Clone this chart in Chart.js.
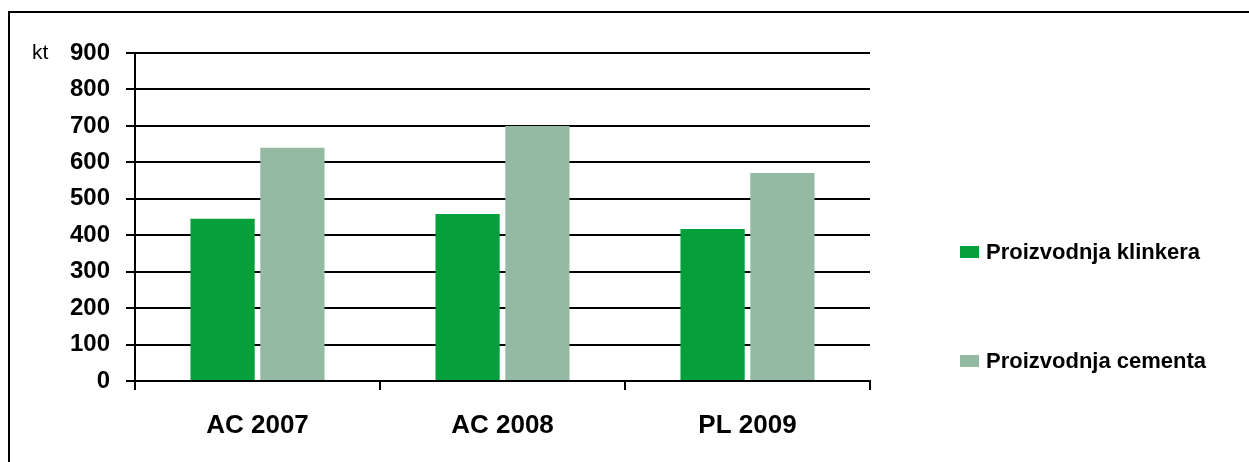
<!DOCTYPE html>
<html>
<head>
<meta charset="utf-8">
<script src="https://cdn.jsdelivr.net/npm/chart.js@4.4.0/dist/chart.umd.min.js"></script>
<style>
  html, body { margin: 0; padding: 0; background: #fff; }
  #wrap { position: relative; width: 1249px; height: 462px; }
  #frame { position: absolute; left: 8px; top: 11px; right: 0; bottom: -2px; border-top: 2px solid #000; border-left: 2px solid #000; }
</style>
</head>
<body>
<div id="wrap">
  <div id="frame"></div>
  <canvas id="cementChart" width="1249" height="462"></canvas>
</div>
<script>
const categories = ['AC 2007', 'AC 2008', 'PL 2009'];
const klinker = [445, 458, 417];
const cement = [640, 700, 571];
const seriesNames = ['Proizvodnja klinkera', 'Proizvodnja cementa'];
const seriesColors = ['#05a03b', '#94baa4'];
const yTicks = [0, 100, 200, 300, 400, 500, 600, 700, 800, 900];
const unitLabel = 'kt';

// legend + unit label drawn on the canvas
const sideLegend = {
  id: 'sideLegend',
  afterDraw(chart) {
    const ctx = chart.ctx;
    ctx.save();
    ctx.textBaseline = 'middle';
    ctx.textAlign = 'left';
    const rows = [252, 361];
    chart.data.datasets.forEach((ds, i) => {
      ctx.fillStyle = ds.backgroundColor;
      ctx.fillRect(960, rows[i] - 6, 19, 12);
      ctx.fillStyle = '#000';
      ctx.font = 'bold 22px "Liberation Sans", Arial, sans-serif';
      ctx.fillText(ds.label, 986, rows[i] + 1);
    });
    ctx.font = '21px "Liberation Sans", Arial, sans-serif';
    ctx.fillText(unitLabel, 32, 53);
    ctx.restore();
  }
};

const ctx = document.getElementById('cementChart').getContext('2d');
new Chart(ctx, {
  type: 'bar',
  data: {
    labels: categories,
    datasets: [
      { label: seriesNames[0], data: klinker, backgroundColor: seriesColors[0] },
      { label: seriesNames[1], data: cement, backgroundColor: seriesColors[1] }
    ]
  },
  options: {
    responsive: false,
    animation: false,
    layout: { padding: { left: 0, right: 379, top: 53, bottom: 0 } },
    datasets: { bar: { categoryPercentage: 0.57, barPercentage: 0.92 } },
    plugins: { legend: { display: false }, tooltip: { enabled: false } },
    scales: {
      x: {
        offset: true,
        grid: { offset: true, drawOnChartArea: false, color: '#000', lineWidth: 2, tickLength: 9 },
        border: { color: '#000', width: 2 },
        ticks: { color: '#000', font: { family: '"Liberation Sans", Arial, sans-serif', size: 26, weight: 'bold' }, padding: 20 },
        afterFit: s => { s.height = 462 - 381; }
      },
      y: {
        min: 0,
        max: 900,
        afterBuildTicks: s => { s.ticks = yTicks.map(v => ({ value: v })); },
        grid: { color: '#000', lineWidth: 2, tickLength: 9 },
        border: { color: '#000', width: 2 },
        ticks: { color: '#000', font: { family: '"Liberation Sans", Arial, sans-serif', size: 24, weight: 'bold' }, padding: 16 },
        afterFit: s => { s.width = 135; }
      }
    }
  },
  plugins: [sideLegend]
});
</script>
</body>
</html>
